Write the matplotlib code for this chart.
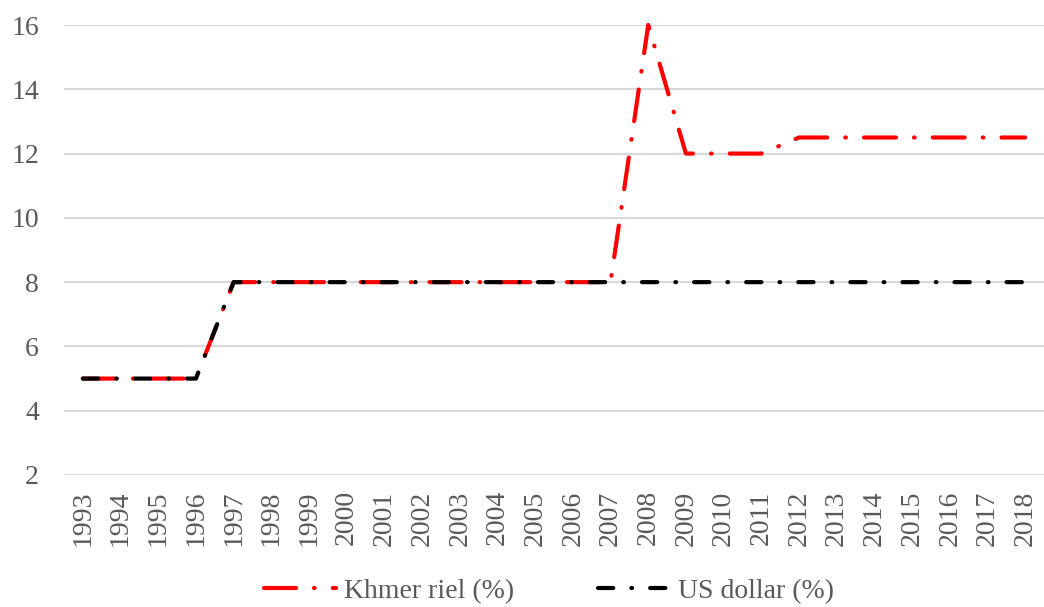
import matplotlib

matplotlib.use("Agg", force=True)
import matplotlib.pyplot as plt  # noqa: E402

years = list(range(1993, 2019))
khmer_riel = [5, 5, 5, 5, 8, 8, 8, 8, 8, 8, 8, 8, 8, 8, 8,
              16, 12, 12, 12, 12.5, 12.5, 12.5, 12.5, 12.5, 12.5, 12.5]
us_dollar = [5, 5, 5, 5] + [8] * 22
y_ticks = [2, 4, 6, 8, 10, 12, 14, 16]

plt.rcParams["font.family"] = ["Liberation Serif", "DejaVu Serif"]
plt.rcParams["lines.scale_dashes"] = False

fig = plt.figure(figsize=(10.44, 6.07), dpi=100)
ax = fig.add_axes([64 / 1044, 1 - 475 / 607, 1 - 64 / 1044, 450 / 607])

idx = list(range(len(years)))
ax.plot(idx, khmer_riel, color="#FF0000", lw=3.0, dashes=(23, 13, 0.5, 13),
        dash_capstyle="round", clip_on=False, label="Khmer riel (%)", zorder=3)
ax.plot(idx, us_dollar, color="#000000", lw=3.0, dashes=(11, 13, 0.5, 13),
        dash_capstyle="round", clip_on=False, label="US dollar (%)", zorder=4)

ax.set_xlim(-0.5, len(years) - 0.5)
ax.set_ylim(2, 16)
ax.set_yticks(y_ticks)
ax.set_xticks(idx)
ax.set_xticklabels([str(y) for y in years], rotation=90)
ax.grid(axis="y", color="#D9D9D9", lw=1.5)
ax.set_axisbelow(True)
for s in ax.spines.values():
    s.set_visible(False)
ax.tick_params(axis="both", length=0, labelsize=20, colors="#595959")
ax.tick_params(axis="x", pad=11)
ax.tick_params(axis="y", pad=18)

leg = ax.legend(loc="center", bbox_to_anchor=(0.495, -0.258), ncol=2,
                frameon=False, fontsize=20, handlelength=2.6, columnspacing=3.0,
                handletextpad=0.3, borderpad=0.2)
for t in leg.get_texts():
    t.set_color("#595959")

fig.savefig("out.png", dpi=100)
